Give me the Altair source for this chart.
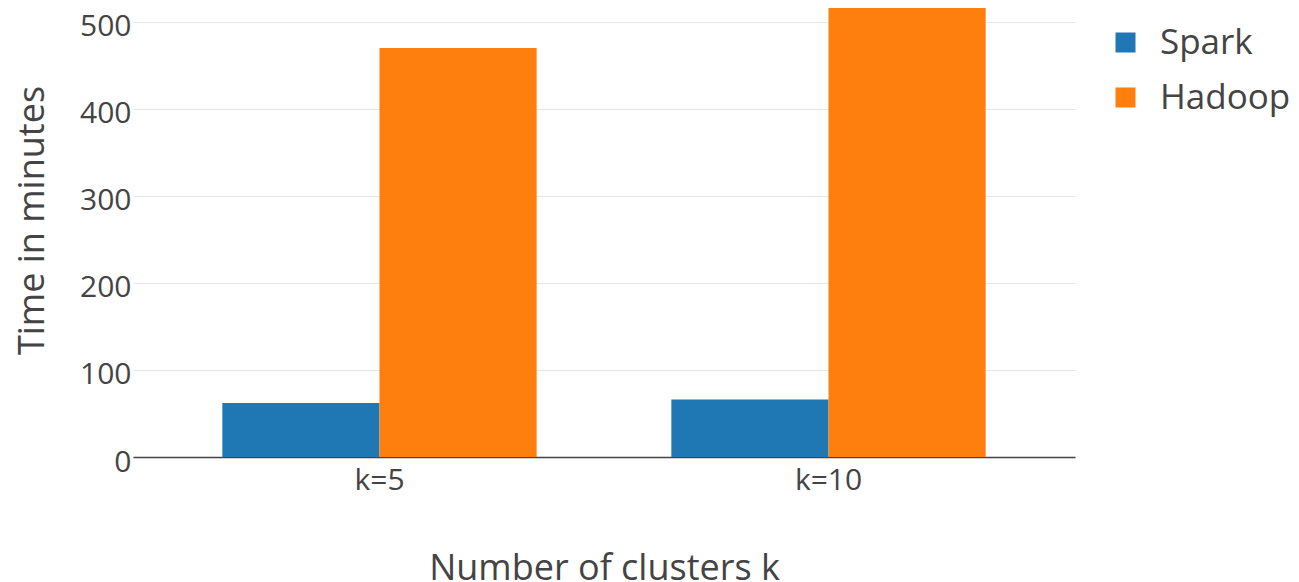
import altair as alt
import pandas as pd

categories = ["k=5", "k=10"]
series = ["Spark", "Hadoop"]
spark = [62, 66]
hadoop = [470, 516]
colors = ["#1f77b4", "#ff7f0e"]
y_ticks = [0, 100, 200, 300, 400, 500]

rows = []
for c, s, h in zip(categories, spark, hadoop):
    rows.append({"k": c, "system": "Spark", "time": s})
    rows.append({"k": c, "system": "Hadoop", "time": h})
df = pd.DataFrame(rows)

TXT = "#444444"

chart = alt.Chart(df).mark_bar().encode(
    x=alt.X("k:N", sort=categories,
            scale=alt.Scale(paddingInner=0.3, paddingOuter=0.199),
            axis=alt.Axis(title="Number of clusters k", labelAngle=0, ticks=False,
                          grid=False, domainColor=TXT, domainWidth=1.5,
                          labelFontSize=30, labelColor=TXT, labelPadding=8,
                          titleFontSize=36, titleColor=TXT, titleFontWeight="normal",
                          titleY=122, titleBaseline="alphabetic")),
    xOffset=alt.XOffset("system:N", sort=series,
                        scale=alt.Scale(paddingInner=0, paddingOuter=0)),
    y=alt.Y("time:Q", scale=alt.Scale(domain=[0, 516], nice=False),
            axis=alt.Axis(title="Time in minutes", values=y_ticks, grid=True,
                          gridColor="#e6e6e6", gridWidth=1, domain=False, ticks=False,
                          labelFontSize=30, labelColor=TXT, labelPadding=2, labelOffset=5,
                          titleFontSize=36, titleColor=TXT, titleFontWeight="normal",
                          titleX=-90, titleY=212, titleAngle=270, titleAlign="center",
                          titleBaseline="alphabetic")),
    color=alt.Color("system:N", sort=series,
                    scale=alt.Scale(domain=series, range=colors),
                    legend=alt.Legend(title=None, orient="none", legendX=975, legendY=17,
                                      symbolType="square", symbolSize=400,
                                      symbolStrokeWidth=0, labelFontSize=35,
                                      labelColor=TXT, labelOffset=17, rowPadding=19,
                                      padding=0)),
).properties(
    width=942, height=449,
    padding={"left": 125, "top": 0, "right": 216, "bottom": 125},
    autosize=alt.AutoSizeParams(type="none"),
).configure(font="Open Sans").configure_view(stroke=None)

chart.save("out.html", embed_options={"renderer": "svg", "actions": False})
